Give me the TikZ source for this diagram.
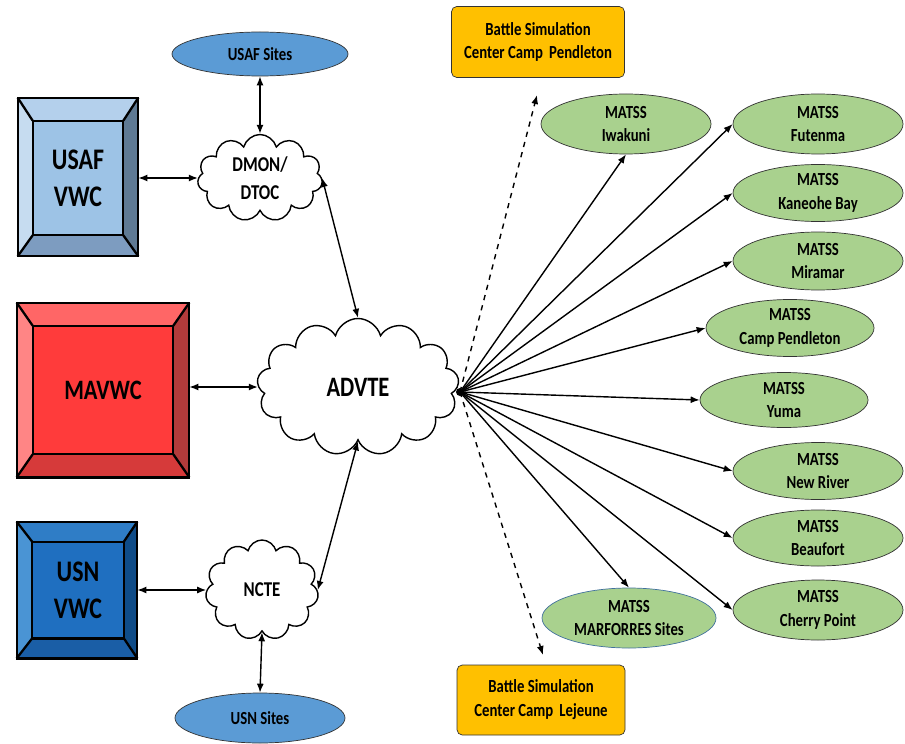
\documentclass[tikz,border=0pt]{standalone}
\usepackage{fontspec}
\setmainfont{Carlito}[FakeStretch=0.8]
\usetikzlibrary{arrows.meta, positioning, calc, shapes.geometric, shapes.symbols}
\definecolor{afinner}{HTML}{9DC3E6}
\definecolor{aftop}{HTML}{B4D0EC}
\definecolor{afleft}{HTML}{C6DCF0}
\definecolor{afright}{HTML}{5F7A94}
\definecolor{afbottom}{HTML}{7D9CC0}
\definecolor{mainner}{HTML}{FF3B3B}
\definecolor{matop}{HTML}{FF6666}
\definecolor{maleft}{HTML}{FF8585}
\definecolor{maright}{HTML}{B33B3B}
\definecolor{mabottom}{HTML}{D63A3A}
\definecolor{nvinner}{HTML}{1F6FC0}
\definecolor{nvtop}{HTML}{2F7DC6}
\definecolor{nvleft}{HTML}{4A94D4}
\definecolor{nvright}{HTML}{0F4C88}
\definecolor{nvbottom}{HTML}{1A5EA6}
\definecolor{siteblue}{HTML}{5B9BD5}
\definecolor{matssgreen}{HTML}{A9D18E}
\definecolor{bscorange}{HTML}{FFC000}
\definecolor{rimblue}{HTML}{41719C}
\tikzset{
    outerbox/.style={rectangle, inner sep=0pt},
    innerbox/.style={rectangle, inner sep=0pt, align=center, font=\fontsize{17}{21}\selectfont\bfseries},
    bevelline/.style={line width=1.3pt, draw=black},
    netcloud/.style={cloud, cloud puffs=11, cloud ignores aspect, draw=black, thick, fill=white, inner sep=0pt, align=center},
    sites/.style={ellipse, draw=black!80, fill=siteblue, inner sep=0pt, font=\fontsize{10.5}{13}\selectfont\bfseries},
    matss/.style={ellipse, draw=black!80, fill=matssgreen, minimum width=34mm, minimum height=12mm, inner sep=0pt, align=center, font=\fontsize{10.5}{13.6}\selectfont\bfseries},
    bsc/.style={rectangle, rounded corners=3pt, draw=black!80, fill=bscorange, inner sep=0pt, align=center, font=\fontsize{10.5}{13.6}\selectfont\bfseries},
    biarrow/.style={{Latex[length=1.8mm,width=1.4mm]}-{Latex[length=1.8mm,width=1.4mm]}, line width=0.8pt},
    fanarrow/.style={-{Latex[length=1.8mm,width=1.4mm]}, line width=0.8pt},
    dasharrow/.style={-{Latex[length=1.8mm,width=1.4mm]}, line width=0.8pt, dashed}
}
% bevel faces: node, top, left, right, bottom
\newcommand{\bevelfaces}[5]{%
    \fill[#2] (#1.north west) -- (#1.north east) -- (#1in.north east) -- (#1in.north west) -- cycle;
    \fill[#3] (#1.north west) -- (#1in.north west) -- (#1in.south west) -- (#1.south west) -- cycle;
    \fill[#4] (#1.north east) -- (#1.south east) -- (#1in.south east) -- (#1in.north east) -- cycle;
    \fill[#5] (#1.south west) -- (#1in.south west) -- (#1in.south east) -- (#1.south east) -- cycle;
    \draw[bevelline] (#1.north west) rectangle (#1.south east);
    \draw[bevelline] (#1in.north west) rectangle (#1in.south east);
    \foreach \c in {north west, north east, south west, south east}
        \draw[bevelline] (#1.\c) -- (#1in.\c);
}

\begin{document}
\begin{tikzpicture}[x=0.2mm, y=-0.2mm]
    \useasboundingbox (0,0) rectangle (905,743);

    % warfare centers
    \node[outerbox, minimum width=24mm, minimum height=31.6mm] (usaf) at (78,177) {};
    \node[innerbox, fill=afinner, minimum width=18mm, minimum height=22.8mm] (usafin) at (78,178) {USAF\\VWC};
    \bevelfaces{usaf}{aftop}{afleft}{afright}{afbottom}

    \node[outerbox, minimum width=34.4mm, minimum height=34.8mm] (mavwc) at (103,390) {};
    \node[innerbox, fill=mainner, minimum width=28mm, minimum height=25.6mm, font=\fontsize{16}{20}\selectfont\bfseries] (mavwcin) at (103,390) {MAVWC};
    \bevelfaces{mavwc}{matop}{maleft}{maright}{mabottom}

    \node[outerbox, minimum width=24mm, minimum height=27.2mm] (usn) at (77,590) {};
    \node[innerbox, fill=nvinner, minimum width=18.2mm, minimum height=19.2mm] (usnin) at (78,590) {USN\\VWC};
    \bevelfaces{usn}{nvtop}{nvleft}{nvright}{nvbottom}

    % networks
    \node[netcloud, minimum width=25mm, minimum height=17.4mm, font=\fontsize{12}{16}\selectfont\bfseries] (dmon) at (260,178) {DMON/\\DTOC};
    \node[netcloud, cloud puffs=13, minimum width=40.4mm, minimum height=27.4mm, font=\fontsize{16}{20}\selectfont\bfseries] (advte) at (358,387) {ADVTE};
    \node[netcloud, minimum width=22.6mm, minimum height=20mm, font=\fontsize{12}{16}\selectfont\bfseries] (ncte) at (262,590) {NCTE};

    \node[sites, minimum width=35.2mm, minimum height=8.8mm] (afsites) at (260,54) {USAF Sites};
    \node[sites, minimum width=34mm, minimum height=10mm] (nvsites) at (260,718) {USN Sites};

    % simulation centers
    \node[bsc, minimum width=34.6mm, minimum height=14.2mm] (bscpen) at (538,42) {Battle Simulation\\Center Camp\,\,Pendleton};
    \node[bsc, minimum width=33.6mm, minimum height=14mm] (bsclej) at (541,700) {Battle Simulation\\Center Camp\,\,Lejeune};

    % MATSS sites
    \node[matss] (iwakuni) at (626,124) {MATSS\\Iwakuni};
    \node[matss] (futenma) at (818,124) {MATSS\\Futenma};
    \node[matss, minimum height=11.4mm] (kaneohe) at (818,193) {MATSS\\Kaneohe Bay};
    \node[matss, minimum height=11.6mm] (miramar) at (818,261) {MATSS\\Miramar};
    \node[matss, minimum width=33.6mm, minimum height=11.4mm] (pendleton) at (790,328) {MATSS\\Camp Pendleton};
    \node[matss, minimum width=33.6mm, minimum height=11mm] (yuma) at (784,400) {MATSS\\Yuma};
    \node[matss, minimum height=11.4mm] (newriver) at (818,471) {MATSS\\New River};
    \node[matss, minimum height=11.2mm] (beaufort) at (818,538) {MATSS\\Beaufort};
    \node[matss] (cherry) at (818,610) {MATSS\\Cherry Point};
    \node[matss, draw=rimblue, minimum width=34.8mm] (marforres) at (629,618) {MATSS\\MARFORRES Sites};

    % links
    \draw[biarrow] (usaf.east |- dmon.west) -- (dmon.west);
    \draw[biarrow] (mavwc.east |- advte.west) -- (advte.west);
    \draw[biarrow] (usn.east |- ncte.west) -- (ncte.west);
    \draw[biarrow] (afsites.south) -- (dmon.north);
    \draw[biarrow] (ncte.south) -- (nvsites.north);
    \draw[biarrow] (dmon.east) -- (advte.north);
    \draw[biarrow] (ncte.east) -- (advte.south);

    \coordinate (hub) at (460,392);
    \coordinate (uptip) at (537,95);
    \coordinate (downtip) at (543,655);
    \fill (hub) circle (4);
    \draw[fanarrow] (hub) -- (iwakuni.south);
    \foreach \s in {futenma, kaneohe, miramar, pendleton, yuma, newriver, beaufort, cherry}
        \draw[fanarrow] (hub) -- (\s.west);
    \draw[fanarrow] (hub) -- (marforres.north);
    \draw[dasharrow] (hub) -- (uptip);
    \draw[dasharrow] (hub) -- (downtip);
\end{tikzpicture}
\end{document}
